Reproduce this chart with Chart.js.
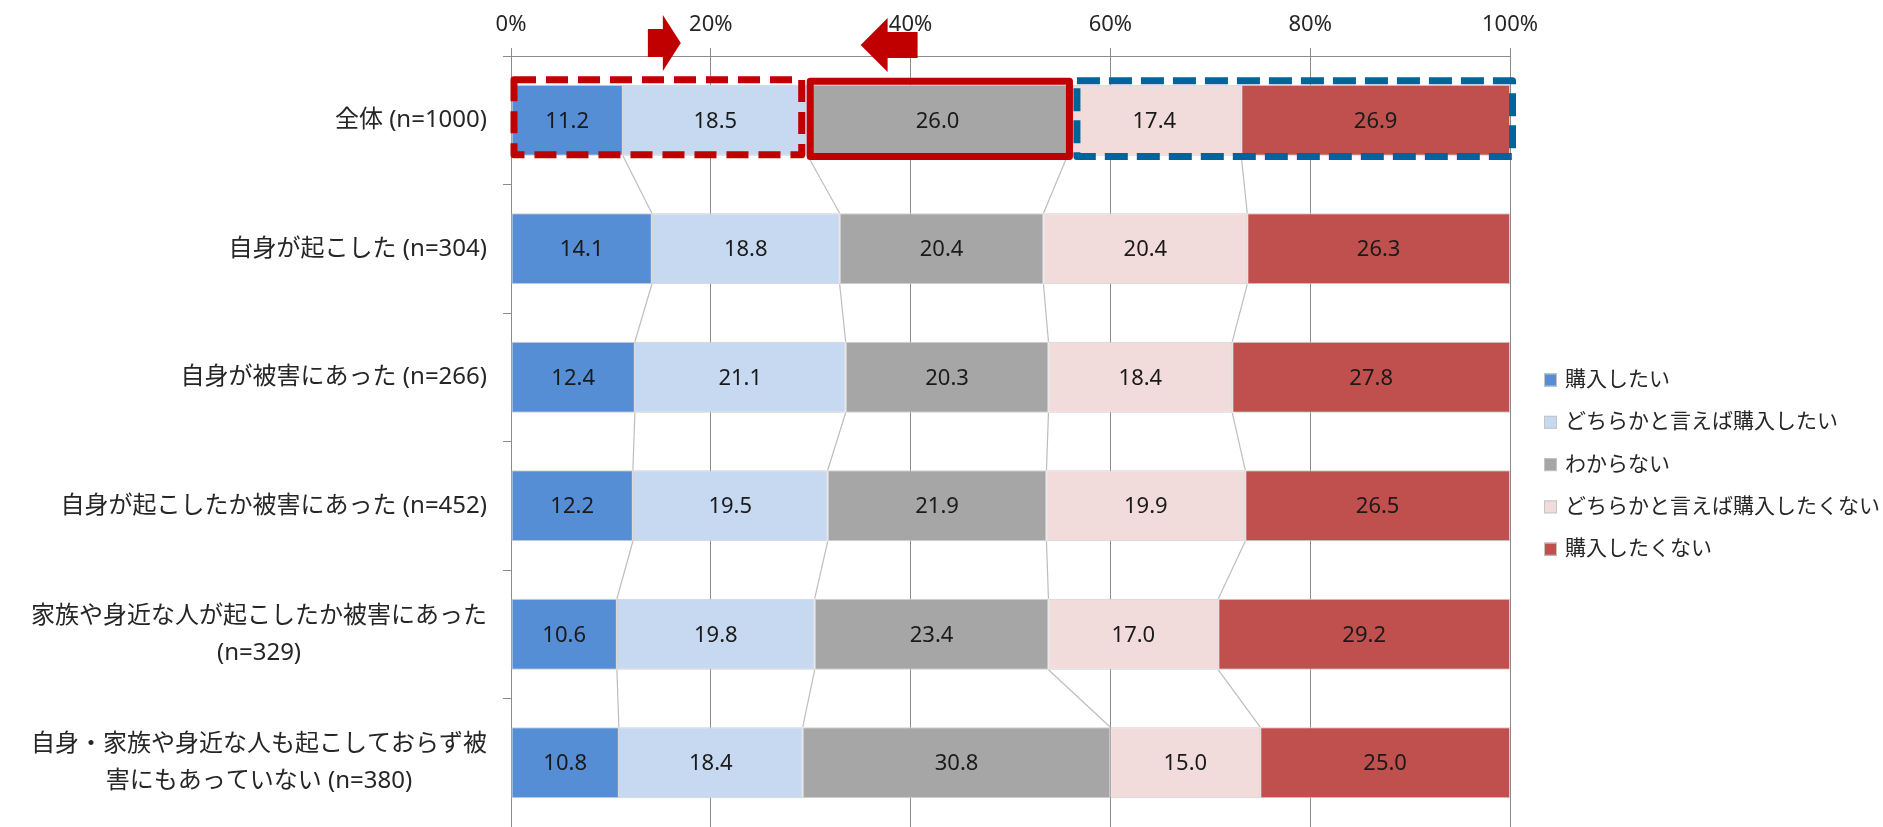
<!DOCTYPE html>
<html lang="ja">
<head>
<meta charset="utf-8">
<title>購入意向</title>
<script src="https://cdn.jsdelivr.net/npm/chart.js@4.4.1/dist/chart.umd.min.js"></script>
<style>
  html, body { margin: 0; padding: 0; background: #fff; }
  #wrap { width: 1883px; height: 827px; }
</style>
</head>
<body>
<div id="wrap"><canvas id="chart" width="1883" height="827"></canvas></div>
<script>
// 回答者区分
const categories = [
  '全体 (n=1000)',
  '自身が起こした (n=304)',
  '自身が被害にあった (n=266)',
  '自身が起こしたか被害にあった (n=452)',
  ['家族や身近な人が起こしたか被害にあった', '(n=329)'],
  ['自身・家族や身近な人も起こしておらず被', '害にもあっていない (n=380)']
];

// 回答（%）
const seriesNames = ['購入したい', 'どちらかと言えば購入したい', 'わからない', 'どちらかと言えば購入したくない', '購入したくない'];
const wantBuy      = [11.2, 14.1, 12.4, 12.2, 10.6, 10.8];
const ratherBuy    = [18.5, 18.8, 21.1, 19.5, 19.8, 18.4];
const unsure       = [26.0, 20.4, 20.3, 21.9, 23.4, 30.8];
const ratherNotBuy = [17.4, 20.4, 18.4, 19.9, 17.0, 15.0];
const notBuy       = [26.9, 26.3, 27.8, 26.5, 29.2, 25.0];

const xTicks = [0, 20, 40, 60, 80, 100];
const xTickLabels = ['0%', '20%', '40%', '60%', '80%', '100%'];

const colors = ['#558ed5', '#c6d9f1', '#a6a6a6', '#f2dcdb', '#c0504d'];
const axisGray = '#8c8c8c';
const textColor = '#262626';
const latin = '"Noto Sans", "Noto Sans CJK JP", sans-serif';

Chart.defaults.font.family = latin;
Chart.defaults.color = textColor;

// 系列線（棒と棒の区切りをつなぐ）
const seriesLines = {
  id: 'seriesLines',
  afterDatasetsDraw(chart) {
    const ctx = chart.ctx;
    ctx.save();
    ctx.strokeStyle = '#bdbdbd';
    ctx.lineWidth = 1.2;
    for (let d = 0; d < chart.data.datasets.length - 1; d++) {
      const els = chart.getDatasetMeta(d).data;
      for (let i = 0; i < els.length - 1; i++) {
        const a = els[i], b = els[i + 1];
        ctx.beginPath();
        ctx.moveTo(a.x, a.y + a.height / 2);
        ctx.lineTo(b.x, b.y - b.height / 2);
        ctx.stroke();
      }
    }
    ctx.restore();
  }
};

// 値ラベル
const valueLabels = {
  id: 'valueLabels',
  afterDatasetsDraw(chart) {
    const ctx = chart.ctx;
    ctx.save();
    ctx.font = '22px ' + latin;
    ctx.fillStyle = '#1a1a1a';
    ctx.textAlign = 'center';
    ctx.textBaseline = 'middle';
    chart.data.datasets.forEach((ds, d) => {
      chart.getDatasetMeta(d).data.forEach((el, i) => {
        ctx.fillText(ds.data[i].toFixed(1), (el.x + el.base) / 2, el.y + 1);
      });
    });
    ctx.restore();
  }
};

// 縦軸ラベル（2行のものは中央揃え）
const categoryLabels = {
  id: 'categoryLabels',
  afterDraw(chart) {
    const ctx = chart.ctx;
    const yScale = chart.scales.y;
    const right = chart.chartArea.left - 24;
    const lineGap = 37;
    ctx.save();
    ctx.font = '24px ' + latin;
    ctx.fillStyle = textColor;
    ctx.textAlign = 'center';
    ctx.textBaseline = 'middle';
    categories.forEach((label, i) => {
      const lines = Array.isArray(label) ? label : [label];
      const w = Math.max(...lines.map(l => ctx.measureText(l).width));
      const cx = right - w / 2;
      const cy = yScale.getPixelForValue(i);
      lines.forEach((l, k) => {
        ctx.fillText(l, cx, cy + (k - (lines.length - 1) / 2) * lineGap);
      });
    });
    ctx.restore();
  }
};

// 凡例
const sideLegend = {
  id: 'sideLegend',
  afterDraw(chart) {
    const ctx = chart.ctx;
    const x = 1544, y0 = 380, step = 42.3, box = 13;
    ctx.save();
    ctx.font = '21px ' + latin;
    ctx.textAlign = 'left';
    ctx.textBaseline = 'middle';
    chart.data.datasets.forEach((ds, d) => {
      const y = y0 + d * step;
      ctx.fillStyle = ds.backgroundColor;
      ctx.fillRect(x, y - box / 2, box, box);
      ctx.strokeStyle = '#c4c4c4';
      ctx.lineWidth = 1;
      ctx.strokeRect(x + 0.5, y - box / 2 + 0.5, box - 1, box - 1);
      ctx.fillStyle = textColor;
      ctx.fillText(ds.label, x + 21, y);
    });
    ctx.restore();
  }
};

// 全体の行を囲む枠と矢印
const highlights = {
  id: 'highlights',
  afterDraw(chart) {
    const ctx = chart.ctx;
    const xs = chart.scales.x;
    const top = chart.chartArea.top;
    const row = i => chart.getDatasetMeta(i).data[0];
    const boxes = [
      { from: 0, to: 1, color: '#c00000', dash: [22, 10], dl: 2.5, dr: -6, dt: -5, db: -1 },
      { from: 2, to: 2, color: '#c00000', dash: [], dl: 2.5, dr: 2, dt: -3.5, db: 0.7 },
      { from: 3, to: 4, color: '#00649c', dash: [23, 9], dl: 9.5, dr: 2.5, dt: -4, db: 0.7 }
    ];
    ctx.save();
    ctx.lineWidth = 7;
    ctx.lineJoin = 'round';
    boxes.forEach(b => {
      const a = row(b.from), e = row(b.to);
      const l = a.base + b.dl, r = e.x + b.dr;
      const t = a.y - a.height / 2 + b.dt, btm = a.y + a.height / 2 + b.db;
      ctx.strokeStyle = b.color;
      ctx.setLineDash(b.dash);
      ctx.beginPath();
      ctx.rect(l, t, r - l, btm - t);
      ctx.stroke();
    });
    ctx.setLineDash([]);

    // 矢印
    ctx.fillStyle = '#c00000';
    const arrow = (tail, base, tip, cy, shaft, head) => {
      const xt = xs.getPixelForValue(tail), xb = xs.getPixelForValue(base), xp = xs.getPixelForValue(tip);
      ctx.beginPath();
      ctx.moveTo(xt, cy - shaft);
      ctx.lineTo(xb, cy - shaft);
      ctx.lineTo(xb, cy - head);
      ctx.lineTo(xp, cy);
      ctx.lineTo(xb, cy + head);
      ctx.lineTo(xb, cy + shaft);
      ctx.lineTo(xt, cy + shaft);
      ctx.closePath();
      ctx.fill();
    };
    arrow(13.7, 15.2, 17.0, top - 13, 14, 28);
    arrow(40.7, 37.7, 35.0, top - 11, 13, 27);
    ctx.restore();
  }
};

const datasets = [wantBuy, ratherBuy, unsure, ratherNotBuy, notBuy].map((vals, d) => ({
  label: seriesNames[d],
  data: vals,
  backgroundColor: colors[d],
  borderColor: '#cfcfcf',
  borderWidth: 1,
  borderSkipped: false,
  barPercentage: 0.553,
  categoryPercentage: 1
}));

new Chart(document.getElementById('chart'), {
  type: 'bar',
  data: { labels: categories, datasets },
  options: {
    indexAxis: 'y',
    responsive: false,
    animation: false,
    devicePixelRatio: 1,
    layout: { padding: { top: 0, right: 373, bottom: 0, left: 0 } },
    plugins: {
      legend: { display: false },
      tooltip: { enabled: false }
    },
    scales: {
      x: {
        position: 'top',
        stacked: true,
        min: 0,
        max: 100,
        afterBuildTicks: s => { s.ticks = xTicks.map(v => ({ value: v })); },
        afterFit: s => { s.height = 56; },
        ticks: {
          padding: 10,
          font: { size: 22 },
          color: textColor,
          callback: (v, i) => xTickLabels[i]
        },
        grid: { color: axisGray, tickLength: 8, drawTicks: true },
        border: { color: axisGray }
      },
      y: {
        stacked: true,
        afterFit: s => { s.width = 511; },
        ticks: { display: false },
        grid: { drawOnChartArea: false, drawTicks: true, tickLength: 8, color: axisGray, offset: true },
        border: { color: axisGray }
      }
    }
  },
  plugins: [seriesLines, valueLabels, categoryLabels, sideLegend, highlights]
});
</script>
</body>
</html>
